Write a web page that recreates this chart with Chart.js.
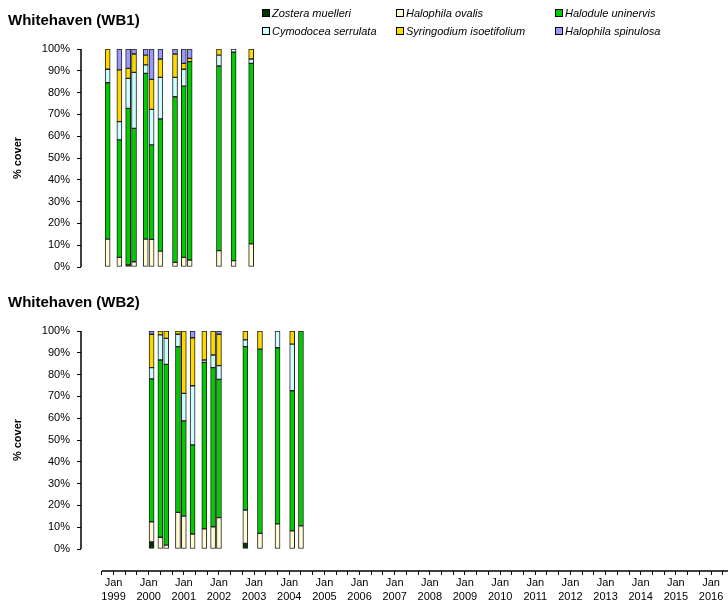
<!DOCTYPE html>
<html>
<head>
<meta charset="utf-8">
<script src="https://cdn.jsdelivr.net/npm/chart.js@4.4.1/dist/chart.umd.min.js"></script>
<style>
    body { margin: 0; background: #fff; width: 728px; height: 612px; overflow: hidden; position: relative;
           font-family: "Liberation Sans", Arial, sans-serif; color: #000; }
    .site-title { position: absolute; left: 8px; font-weight: bold; font-size: 15px; white-space: nowrap; z-index: 2; }
    .legend-item { position: absolute; font-size: 11px; font-style: italic; white-space: nowrap; z-index: 2; line-height: 13px; }
    .legend-item .swatch { display: inline-block; width: 6px; height: 6px; border: 1px solid #000; margin-right: 2px; vertical-align: 0px; }
    canvas { position: absolute; left: 0; }
</style>
</head>
<body>
<div class="site-title" style="top:11px">Whitehaven (WB1)</div>
<div class="site-title" style="top:293px">Whitehaven (WB2)</div>
<div id="legend"></div>
<canvas id="wb1Chart" width="728" height="285" style="top:0"></canvas>
<canvas id="wb2Chart" width="728" height="322" style="top:290px"></canvas>
<script>
// species in stacking order (bottom to top)
const species = ['Zostera muelleri', 'Halophila ovalis', 'Halodule uninervis',
    'Cymodocea serrulata', 'Syringodium isoetifolium', 'Halophila spinulosa'];
const speciesColors = ['#003300', '#FFFBD2', '#00CC00', '#CCFFFF', '#FFD800', '#9999FF'];

// WB1 sampling dates and % cover of each species
const wb1Dates = ['1998-11', '1999-03', '1999-06', '1999-08', '1999-12', '2000-02', '2000-05',
    '2000-10', '2001-01', '2001-03', '2002-01', '2002-06', '2002-12'];
const wb1Zostera = [0, 0, 1, 0, 0, 0, 0, 0, 0, 0, 0, 0, 0];
const wb1Ovalis = [12.8, 4.4, 0, 2.4, 12.8, 12.7, 7.3, 2.1, 4.4, 3.2, 7.5, 2.9, 10.6];
const wb1Halodule = [71.7, 53.9, 71.8, 61.2, 76.0, 43.3, 60.6, 76.0, 78.6, 91.0, 84.7, 95.6, 82.8];
const wb1Cymodocea = [6.2, 8.4, 13.7, 25.7, 3.9, 16.3, 19.1, 8.9, 7.7, 0, 5.0, 1.5, 2.0];
const wb1Syringodium = [9.3, 23.7, 4.6, 8.4, 4.5, 13.8, 8.4, 10.7, 2.7, 1.5, 2.8, 0, 4.6];
const wb1Spinulosa = [0, 9.6, 8.9, 2.3, 2.8, 13.9, 4.6, 2.3, 6.6, 4.3, 0, 0, 0];

// WB2 sampling dates and % cover of each species
const wb2Dates = ['2000-02', '2000-05', '2000-07', '2000-11', '2001-01', '2001-04', '2001-08',
    '2001-11', '2002-01', '2002-10', '2003-03', '2003-09', '2004-02', '2004-05'];
const wb2Zostera = [3.3, 0, 0, 0, 0, 0, 0, 0, 0, 2.6, 0, 0, 0, 0];
const wb2Ovalis = [9.2, 5.4, 1.8, 16.8, 15.1, 6.9, 9.2, 10.2, 14.4, 15.3, 7.2, 11.5, 8.3, 10.6];
const wb2Halodule = [65.5, 81.3, 82.9, 76.0, 43.6, 40.8, 76.4, 73.0, 63.4, 74.9, 84.5, 80.8, 64.3, 89.4];
const wb2Cymodocea = [5.2, 11.5, 11.9, 5.7, 12.7, 27.2, 1.1, 5.8, 6.3, 3.1, 0, 7.7, 21.4, 0];
const wb2Syringodium = [15.3, 1.8, 3.4, 1.5, 28.6, 22.0, 13.3, 11.0, 14.4, 4.1, 8.3, 0, 6.0, 0];
const wb2Spinulosa = [1.5, 0, 0, 0, 0, 3.1, 0, 0, 1.5, 0, 0, 0, 0, 0];

const wb1Cover = [wb1Zostera, wb1Ovalis, wb1Halodule, wb1Cymodocea, wb1Syringodium, wb1Spinulosa];
const wb2Cover = [wb2Zostera, wb2Ovalis, wb2Halodule, wb2Cymodocea, wb2Syringodium, wb2Spinulosa];

// time axis in months from Jan 1999
const axisStart = -4;      // Sep 1998
const axisEnd = 208;
const xMin = -11.1;
const xMax = 209.8;
const yTicks = [0, 10, 20, 30, 40, 50, 60, 70, 80, 90, 100];

function monthIndex(d) {
    const [y, m] = d.split('-').map(Number);
    return (y - 1999) * 12 + (m - 1);
}

// legend: 3 columns x 2 rows
const legendX = [262, 396, 555];
const legendY = [7, 25];
const legendBox = document.getElementById('legend');
species.forEach((name, i) => {
    const item = document.createElement('div');
    item.className = 'legend-item';
    item.style.left = legendX[i % 3] + 'px';
    item.style.top = legendY[Math.floor(i / 3)] + 'px';
    item.innerHTML = `<span class="swatch" style="background:${speciesColors[i]}"></span>${name}`;
    legendBox.appendChild(item);
});

// axis lines and the rotated "% cover" label
const axisLines = {
    id: 'axisLines',
    afterDraw(chart, args, opts) {
        const ctx = chart.ctx;
        const x = chart.scales.x;
        const y = chart.scales.y;
        const area = chart.chartArea;
        const top = y.getPixelForValue(100);
        const bottom = y.getPixelForValue(0);
        ctx.save();
        ctx.strokeStyle = '#000';
        ctx.lineWidth = 1.5;
        ctx.beginPath();
        ctx.moveTo(area.left, top);
        ctx.lineTo(area.left, bottom);
        if (opts.timeAxis) {
            ctx.moveTo(x.getPixelForValue(axisStart), area.bottom);
            ctx.lineTo(area.right, area.bottom);
        }
        ctx.stroke();

        ctx.translate(18, (top + bottom) / 2);
        ctx.rotate(-Math.PI / 2);
        ctx.font = 'bold 11px "Liberation Sans", Arial, sans-serif';
        ctx.fillStyle = '#000';
        ctx.textAlign = 'center';
        ctx.textBaseline = 'middle';
        ctx.fillText('% cover', 0, 0);
        ctx.restore();
    }
};

function drawPanel(canvasId, dates, cover, timeAxis) {
    const xs = dates.map(monthIndex);
    const datasets = species.map((name, i) => ({
        label: name,
        data: xs.map((x, j) => ({ x: x, y: cover[i][j] || null })),
        backgroundColor: speciesColors[i],
        borderColor: '#222',
        borderWidth: 1,
        borderSkipped: false,
        barThickness: 5
    }));

    const ctx = document.getElementById(canvasId).getContext('2d');
    return new Chart(ctx, {
        type: 'bar',
        data: { datasets: datasets },
        plugins: [axisLines],
        options: {
            responsive: false,
            animation: false,
            layout: {
                padding: timeAxis ? { top: 41, bottom: 0, left: 0, right: 0 } : { top: 49, bottom: 18, left: 0, right: 0 }
            },
            plugins: {
                legend: { display: false },
                tooltip: { enabled: false },
                axisLines: { timeAxis: timeAxis }
            },
            scales: {
                x: {
                    type: 'linear',
                    display: timeAxis,
                    stacked: true,
                    offset: false,
                    min: xMin,
                    max: xMax,
                    border: { display: false },
                    grid: { display: true, offset: false, drawOnChartArea: false, drawTicks: true, tickLength: 4, color: '#000', tickColor: '#000' },
                    afterBuildTicks: scale => {
                        const ticks = [];
                        for (let v = axisStart; v <= axisEnd; v += 4) ticks.push({ value: v });
                        scale.ticks = ticks;
                    },
                    afterFit: scale => { scale.height = timeAxis ? 41 : 0; },
                    ticks: {
                        autoSkip: false,
                        maxRotation: 0,
                        minRotation: 0,
                        padding: 1,
                        color: '#000',
                        font: { family: '"Liberation Sans", Arial, sans-serif', size: 11, lineHeight: 1.27 },
                        callback: value => value % 12 === 0 ? ['Jan', String(1999 + value / 12)] : ''
                    }
                },
                y: {
                    stacked: true,
                    min: timeAxis ? -10.09 : 0,
                    max: 100,
                    border: { display: false },
                    grid: { display: true, drawOnChartArea: false, drawTicks: true, tickLength: 4, color: '#000', tickColor: '#000' },
                    afterBuildTicks: scale => { scale.ticks = yTicks.map(v => ({ value: v })); },
                    afterFit: scale => { scale.width = 81; },
                    ticks: {
                        padding: 7,
                        color: '#000',
                        font: { family: '"Liberation Sans", Arial, sans-serif', size: 11 },
                        callback: value => value + '%'
                    }
                }
            }
        }
    });
}

drawPanel('wb1Chart', wb1Dates, wb1Cover, false);
drawPanel('wb2Chart', wb2Dates, wb2Cover, true);
</script>
</body>
</html>
